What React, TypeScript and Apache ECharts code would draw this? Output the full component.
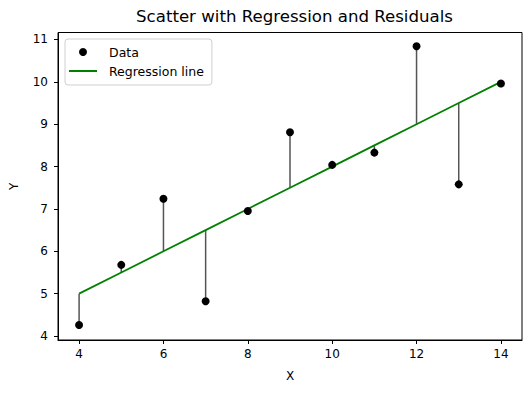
import React, { useEffect, useRef } from "react";
import * as echarts from "echarts";

const xValues = [10, 8, 13, 9, 11, 14, 6, 4, 12, 7, 5];
const yValues = [8.04, 6.95, 7.58, 8.81, 8.33, 9.96, 7.24, 4.26, 10.84, 4.82, 5.68];
const fitIntercept = 3.0;
const fitSlope = 0.5;
const xTicks = [4, 6, 8, 10, 12, 14];
const yTicks = [4, 5, 6, 7, 8, 9, 10, 11];

export default function App() {
  const ref = useRef<HTMLDivElement>(null);
  useEffect(() => {
    if (!ref.current) return;
    const chart = echarts.init(ref.current, undefined, { renderer: "svg" });
    const points = xValues.map((x, i) => [x, yValues[i]]);
    const fitted = xValues.map((x) => fitIntercept + fitSlope * x);
    const sortedX = [...xValues].sort((a, b) => a - b);
    const lineData = sortedX.map((x) => [x, fitIntercept + fitSlope * x]);
    const residData = xValues.map((x, i) => [x, yValues[i], fitted[i]]);
    const font = "DejaVu Sans";
    chart.setOption({
      animation: false,
      backgroundColor: "#fff",
      textStyle: { fontFamily: font },
      title: {
        text: "Scatter with Regression and Residuals",
        left: 289.5,
        textAlign: "center",
        top: 3,
        textStyle: { fontFamily: font, fontSize: 16.6, fontWeight: "normal", color: "#000" },
      },
      grid: { left: 57, right: 10, top: 32.5, bottom: 53, show: true, borderColor: "#000", borderWidth: 1 },
      legend: {
        orient: "vertical",
        left: 65,
        top: 39,
        padding: [6, 8, 7, 4],
        backgroundColor: "#fff",
        borderColor: "#d0d0d0",
        borderWidth: 1,
        borderRadius: 3,
        itemWidth: 28,
        itemHeight: 8,
        itemGap: 5,
        textStyle: { fontFamily: font, fontSize: 12.5, color: "#000", lineHeight: 14, padding: [0, 0, 0, 7] },
        data: [
          { name: "Data", icon: "circle" },
          { name: "Regression line", icon: "path://M0,0H28V2H0Z" },
        ],
      },
      xAxis: {
        type: "value",
        min: 3.5,
        max: 14.5,
        name: "X",
        nameLocation: "middle",
        nameGap: 30,
        nameTextStyle: { fontFamily: font, fontSize: 12, color: "#000" },
        axisLine: { show: true, lineStyle: { color: "#000" } },
        axisTick: { show: true, length: 4, customValues: xTicks, lineStyle: { color: "#000" } },
        axisLabel: { customValues: xTicks, fontFamily: font, fontSize: 12, color: "#000", margin: 8 },
        splitLine: { show: false },
      },
      yAxis: {
        type: "value",
        min: 3.906,
        max: 11.165,
        name: "Y",
        nameLocation: "middle",
        nameGap: 38,
        nameTextStyle: { fontFamily: font, fontSize: 12, color: "#000" },
        axisLine: { show: true, lineStyle: { color: "#000" } },
        axisTick: { show: true, length: 4, customValues: yTicks, lineStyle: { color: "#000" } },
        axisLabel: { customValues: yTicks, fontFamily: font, fontSize: 12, color: "#000", margin: 10 },
        splitLine: { show: false },
      },
      series: [
        {
          type: "custom",
          name: "Residuals",
          z: 1,
          data: residData,
          renderItem: (params: any, api: any) => {
            const p1 = api.coord([api.value(0), api.value(1)]);
            const p2 = api.coord([api.value(0), api.value(2)]);
            return {
              type: "line",
              shape: { x1: p1[0], y1: p1[1], x2: p2[0], y2: p2[1] },
              style: { stroke: "#555555", lineWidth: 1.5 },
            };
          },
          silent: true,
        },
        {
          type: "line",
          name: "Regression line",
          z: 2,
          data: lineData,
          showSymbol: false,
          symbol: "none",
          lineStyle: { color: "#008000", width: 1.8 },
          itemStyle: { color: "#008000" },
        },
        {
          type: "scatter",
          name: "Data",
          z: 3,
          data: points,
          symbol: "circle",
          symbolSize: 8,
          itemStyle: { color: "#000", opacity: 1 },
        },
      ],
    });
    return () => chart.dispose();
  }, []);
  return <div ref={ref} style={{ width: 532, height: 393, position: "absolute", left: 0, top: 0 }} />;
}
